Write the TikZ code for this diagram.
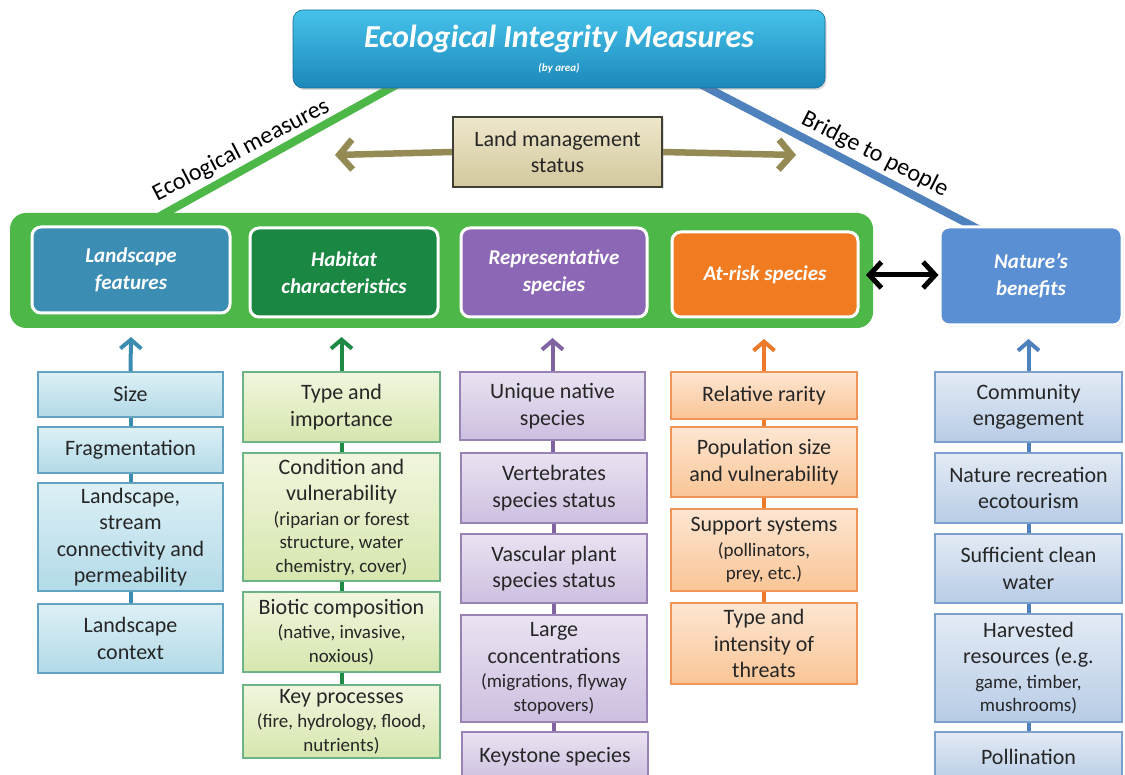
\documentclass[tikz,border=0pt]{standalone}
\usepackage{fontspec}
\setmainfont{Carlito}
\usetikzlibrary{arrows.meta,shadows,calc}
\definecolor{ecogreen}{HTML}{4DB848}
\definecolor{bridgeblue}{HTML}{4F81BD}
\definecolor{olivearr}{HTML}{948A54}
\definecolor{txt}{HTML}{262626}
\definecolor{catA}{HTML}{3C8DB4}
\definecolor{catB}{HTML}{1A8743}
\definecolor{catC}{HTML}{8C67B5}
\definecolor{catD}{HTML}{F07B20}
\definecolor{catE}{HTML}{5B8FD3}
\definecolor{lnA}{HTML}{3A8CB0}
\definecolor{lnB}{HTML}{1E8A45}
\definecolor{lnC}{HTML}{8064A2}
\definecolor{lnD}{HTML}{EC7A2A}
\definecolor{lnE}{HTML}{4F81BD}
\definecolor{fA1}{HTML}{DDF0F6}
\definecolor{fA2}{HTML}{B2DAE8}
\definecolor{fB1}{HTML}{F1F6DE}
\definecolor{fB2}{HTML}{D6E6AE}
\definecolor{fC1}{HTML}{EAE3F2}
\definecolor{fC2}{HTML}{CDBFE0}
\definecolor{fD1}{HTML}{FDE6D2}
\definecolor{fD2}{HTML}{FAC596}
\definecolor{fE1}{HTML}{E3EBF5}
\definecolor{fE2}{HTML}{B8CCE6}
\definecolor{tT1}{HTML}{45C2EA}
\definecolor{tT2}{HTML}{1C88BA}
\definecolor{lL1}{HTML}{EEE7CB}
\definecolor{lL2}{HTML}{D3C89D}
\definecolor{lLB}{HTML}{3F3F36}
\newcommand\bx[7]{\node[#2, minimum width={#5pt-#3pt}, minimum height={#6pt-#4pt}] (#1) at ({(#3+#5)/2},{(#4+#6)/2}) {#7};}
\newcommand\sfnt{\fontsize{19}{24}\selectfont}
\begin{document}
\begin{tikzpicture}[x=1pt,y=-1pt,
  cat/.style={rounded corners=9pt, draw=white, line width=3pt, text=white, inner sep=0pt,
    font=\fontsize{21}{27}\selectfont\bfseries\itshape, align=center,
    drop shadow={opacity=0.3,shadow xshift=1.5pt,shadow yshift=-1.5pt}},
  item/.style={line width=1.5pt, align=center, inner sep=0pt, text=txt,
    font=\fontsize{22}{26.5}\selectfont},
  itA/.style={item, draw=lnA!80, top color=fA1, bottom color=fA2},
  itB/.style={item, draw=lnB!65, top color=fB1, bottom color=fB2},
  itC/.style={item, draw=lnC!80, top color=fC1, bottom color=fC2},
  itD/.style={item, draw=lnD!80, top color=fD1, bottom color=fD2},
  itE/.style={item, draw=lnE!75, top color=fE1, bottom color=fE2},
  cl/.style={line width=4pt, draw=#1},
  uparrow/.style={line width=4pt, draw=#1, -{Straight Barb[length=9pt,width=21pt]}},
  lbl/.style={font=\fontsize{24}{28}\selectfont, text=black, anchor=base, inner sep=0pt}
]
\useasboundingbox (0,0) rectangle (1125,775);
\clip (0,0) rectangle (1125,775);
% connector lines from title
\coordinate (g1) at (398,84);
\coordinate (g2) at (160,216);
\coordinate (b1) at (700,84);
\coordinate (b2) at (980,230);
\draw[line width=8pt, ecogreen] (g1) -- (g2);
\draw[line width=8pt, bridgeblue] (b1) -- (b2);
% title
\bx{title}{rounded corners=10pt, top color=tT1, bottom color=tT2, draw=tT2!80!black, line width=0.6pt, drop shadow={opacity=0.3,shadow xshift=1.5pt,shadow yshift=-2pt}}{293}{10}{825}{88}{}
\node[anchor=base, text=white, font=\fontsize{32}{34}\selectfont\bfseries\itshape, inner sep=0pt] (titletext) at (559,48) {Ecological Integrity Measures};
\node[anchor=base, text=white, font=\fontsize{11}{12}\selectfont\bfseries\itshape, inner sep=0pt] (byarea) at (559,72) {(by area)};
% labels on lines
\node[lbl, rotate=27.5] (ecolbl) at (244,156) {Ecological measures};
\node[lbl, rotate=-27] (bridgelbl) at (872,160) {Bridge to people};
% land management
\bx{land}{top color=lL1, bottom color=lL2, draw=lLB, line width=2pt, align=center, inner sep=0pt, text=txt, font=\fontsize{22}{26}\selectfont, drop shadow={opacity=0.25,shadow xshift=1.5pt,shadow yshift=-1.5pt}}{453}{117}{662}{187}{Land management\\status}
\coordinate (lmL) at (335,155);
\coordinate (lmR) at (796,155);
\draw[line width=6.5pt, olivearr, -{Straight Barb[length=13pt,width=30pt]}] (land.west) -- (lmL);
\draw[line width=6.5pt, olivearr, -{Straight Barb[length=13pt,width=30pt]}] (land.east) -- (lmR);
% green frame
\bx{frame}{fill=ecogreen, rounded corners=16pt}{10}{213}{873}{328}{}
% category boxes
\bx{landsc}{cat, fill=catA}{32}{227}{230}{313}{Landscape\\features}
\bx{habitat}{cat, fill=catB}{250}{228}{438}{317}{Habitat\\characteristics}
\bx{repr}{cat, fill=catC}{461}{228}{647}{317}{Representative\\species}
\bx{atrisk}{cat, fill=catD}{672}{232}{858}{317}{At-risk species}
\bx{nature}{cat, fill=catE}{940}{227}{1122}{325}{Nature’s\\benefits}
\coordinate (dl) at (866,275);
\draw[line width=5pt, black, {Straight Barb[length=12pt,width=26pt]}-{Straight Barb[length=12pt,width=26pt]}] (dl) -- (dl -| nature.west);
% column 1
\bx{size}{itA}{38}{372}{223}{417}{Size}
\bx{frag}{itA}{38}{427}{223}{473}{Fragmentation}
\bx{connect}{itA}{38}{483}{223}{591}{Landscape,\\stream\\connectivity and\\permeability}
\bx{context}{itA}{38}{604}{223}{673}{Landscape\\context}
% column 2
\bx{typeimp}{itB}{243}{372}{440}{442}{Type and\\importance}
\bx{cond}{itB}{243}{453}{440}{581}{Condition and\\vulnerability\\[-2pt]{\sfnt (riparian or forest}\\[-3pt]{\sfnt structure, water}\\[-3pt]{\sfnt chemistry, cover)}}
\bx{biotic}{itB}{243}{592}{440}{672}{Biotic composition\\[-2pt]{\sfnt (native, invasive,}\\[-3pt]{\sfnt noxious)}}
\bx{keyproc}{itB}{243}{685}{440}{758}{Key processes\\[-2pt]{\sfnt (fire, hydrology, flood,}\\[-3pt]{\sfnt nutrients)}}
% column 3
\bx{unique}{itC}{460}{372}{645}{440}{Unique native\\species}
\bx{vert}{itC}{461}{453}{647}{523}{Vertebrates\\species status}
\bx{vasc}{itC}{461}{534}{647}{603}{Vascular plant\\species status}
\bx{large}{itC}{461}{615}{647}{722}{Large\\concentrations\\[-2pt]{\sfnt (migrations, flyway}\\[-3pt]{\sfnt stopovers)}}
\bx{keystone}{itC}{462}{732}{648}{782}{Keystone species}
% column 4
\bx{rarity}{itD}{671}{372}{857}{419}{Relative rarity}
\bx{popsize}{itD}{671}{427}{857}{497}{Population size\\and vulnerability}
\bx{support}{itD}{671}{509}{857}{591}{Support systems\\[-2pt]{\sfnt (pollinators,}\\[-3pt]{\sfnt prey, etc.)}}
\bx{threats}{itD}{671}{603}{857}{684}{Type and\\intensity of\\threats}
% column 5
\bx{commun}{itE}{935}{372}{1122}{442}{Community\\engagement}
\bx{recr}{itE}{935}{453}{1122}{523}{Nature recreation\\ecotourism}
\bx{water}{itE}{935}{534}{1122}{603}{Sufficient clean\\water}
\bx{harv}{itE}{935}{614}{1122}{722}{Harvested\\resources (e.g.\\[-2pt]{\sfnt game, timber,}\\[-3pt]{\sfnt mushrooms)}}
\bx{pollin}{itE}{935}{732}{1122}{782}{Pollination}
% column connectors
\draw[cl=lnA] (size.south) -- (frag.north);
\draw[cl=lnA] (frag.south) -- (connect.north);
\draw[cl=lnA] (connect.south) -- (context.north);
\draw[cl=lnB] (typeimp.south) -- (cond.north);
\draw[cl=lnB] (cond.south) -- (biotic.north);
\draw[cl=lnB] (biotic.south) -- (keyproc.north);
\draw[cl=lnC] (unique.south) -- (unique.south |- vert.north);
\draw[cl=lnC] (vert.south) -- (vasc.north);
\draw[cl=lnC] (vasc.south) -- (large.north);
\draw[cl=lnC] (large.south) -- (large.south |- keystone.north);
\draw[cl=lnD] (rarity.south) -- (popsize.north);
\draw[cl=lnD] (popsize.south) -- (support.north);
\draw[cl=lnD] (support.south) -- (threats.north);
\draw[cl=lnE] (commun.south) -- (recr.north);
\draw[cl=lnE] (recr.south) -- (water.north);
\draw[cl=lnE] (water.south) -- (harv.north);
\draw[cl=lnE] (harv.south) -- (pollin.north);
% up arrows
\coordinate (t1) at (131,337);
\coordinate (t2) at (341.5,337);
\coordinate (t3) at (552.5,338);
\coordinate (t4) at (764,339);
\coordinate (t5) at (1028.5,339);
\draw[uparrow=lnA] (size.north) -- (t1);
\draw[uparrow=lnB] (typeimp.north) -- (t2);
\draw[uparrow=lnC] (unique.north) -- (t3);
\draw[uparrow=lnD] (rarity.north) -- (t4);
\draw[uparrow=lnE] (commun.north) -- (t5);
\end{tikzpicture}
\end{document}
